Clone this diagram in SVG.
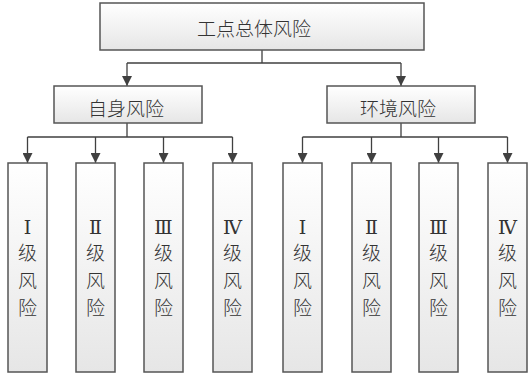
<svg xmlns="http://www.w3.org/2000/svg" width="528" height="378" viewBox="0 0 528 378">
<defs>
<linearGradient id="g" x1="0" y1="0" x2="0" y2="1">
<stop offset="0" stop-color="#ffffff"/>
<stop offset="1" stop-color="#e6e6e6"/>
</linearGradient>
<marker id="ah" viewBox="0 0 10 10" refX="10" refY="5" markerWidth="11" markerHeight="10" markerUnits="userSpaceOnUse" orient="auto">
<path d="M0,0 L10,5 L0,10 z" fill="#404040"/>
</marker>
</defs>
<style>
.box{fill:url(#g);stroke:#555555;stroke-width:1.5}
.t{font-family:"Noto Sans CJK SC",sans-serif;font-size:19px;font-weight:300;fill:#333;text-anchor:middle}
.r{font-family:"Liberation Serif","DejaVu Serif","Noto Sans CJK SC",serif;font-size:19px;fill:#333;text-anchor:middle}
.c{fill:none;stroke:#404040;stroke-width:1.3}
</style>
<g id="connectors">
<path class="c" d="M262,50 V63 M127,63 H401"/>
<path class="c" d="M127,63 V86" marker-end="url(#ah)"/>
<path class="c" d="M401,63 V86" marker-end="url(#ah)"/>
<path class="c" d="M127,123 V137 M27.5,137 H232.5"/>
<path class="c" d="M27.5,137 V163" marker-end="url(#ah)"/>
<path class="c" d="M95.5,137 V163" marker-end="url(#ah)"/>
<path class="c" d="M163.5,137 V163" marker-end="url(#ah)"/>
<path class="c" d="M232.5,137 V163" marker-end="url(#ah)"/>
<path class="c" d="M401,123 V137 M302.5,137 H507.5"/>
<path class="c" d="M302.5,137 V163" marker-end="url(#ah)"/>
<path class="c" d="M371.5,137 V163" marker-end="url(#ah)"/>
<path class="c" d="M438.5,137 V163" marker-end="url(#ah)"/>
<path class="c" d="M507.5,137 V163" marker-end="url(#ah)"/>
</g>
<g id="root"><rect class="box" x="100" y="3" width="324" height="47"/><text class="t" x="254" y="36">工点总体风险</text></g>
<g id="self"><rect class="box" x="54" y="86" width="148" height="37"/><text class="t" x="126" y="116">自身风险</text></g>
<g id="env"><rect class="box" x="327" y="86" width="148" height="37"/><text class="t" x="398" y="116">环境风险</text></g>
<g id="s1"><rect class="box" x="8" y="163" width="39" height="209"/><text class="r" x="27.5" y="234">Ⅰ</text><text class="t" x="27.5" y="260">级</text><text class="t" x="27.5" y="288">风</text><text class="t" x="27.5" y="315">险</text></g>
<g id="s2"><rect class="box" x="76" y="163" width="39" height="209"/><text class="r" x="95.5" y="234">Ⅱ</text><text class="t" x="95.5" y="260">级</text><text class="t" x="95.5" y="288">风</text><text class="t" x="95.5" y="315">险</text></g>
<g id="s3"><rect class="box" x="144" y="163" width="39" height="209"/><text class="r" x="163.5" y="234">Ⅲ</text><text class="t" x="163.5" y="260">级</text><text class="t" x="163.5" y="288">风</text><text class="t" x="163.5" y="315">险</text></g>
<g id="s4"><rect class="box" x="213" y="163" width="39" height="209"/><text class="r" x="232.5" y="234">Ⅳ</text><text class="t" x="232.5" y="260">级</text><text class="t" x="232.5" y="288">风</text><text class="t" x="232.5" y="315">险</text></g>
<g id="e1"><rect class="box" x="283" y="163" width="39" height="209"/><text class="r" x="302.5" y="234">Ⅰ</text><text class="t" x="302.5" y="260">级</text><text class="t" x="302.5" y="288">风</text><text class="t" x="302.5" y="315">险</text></g>
<g id="e2"><rect class="box" x="352" y="163" width="39" height="209"/><text class="r" x="371.5" y="234">Ⅱ</text><text class="t" x="371.5" y="260">级</text><text class="t" x="371.5" y="288">风</text><text class="t" x="371.5" y="315">险</text></g>
<g id="e3"><rect class="box" x="419" y="163" width="39" height="209"/><text class="r" x="438.5" y="234">Ⅲ</text><text class="t" x="438.5" y="260">级</text><text class="t" x="438.5" y="288">风</text><text class="t" x="438.5" y="315">险</text></g>
<g id="e4"><rect class="box" x="488" y="163" width="39" height="209"/><text class="r" x="507.5" y="234">Ⅳ</text><text class="t" x="507.5" y="260">级</text><text class="t" x="507.5" y="288">风</text><text class="t" x="507.5" y="315">险</text></g>
</svg>
